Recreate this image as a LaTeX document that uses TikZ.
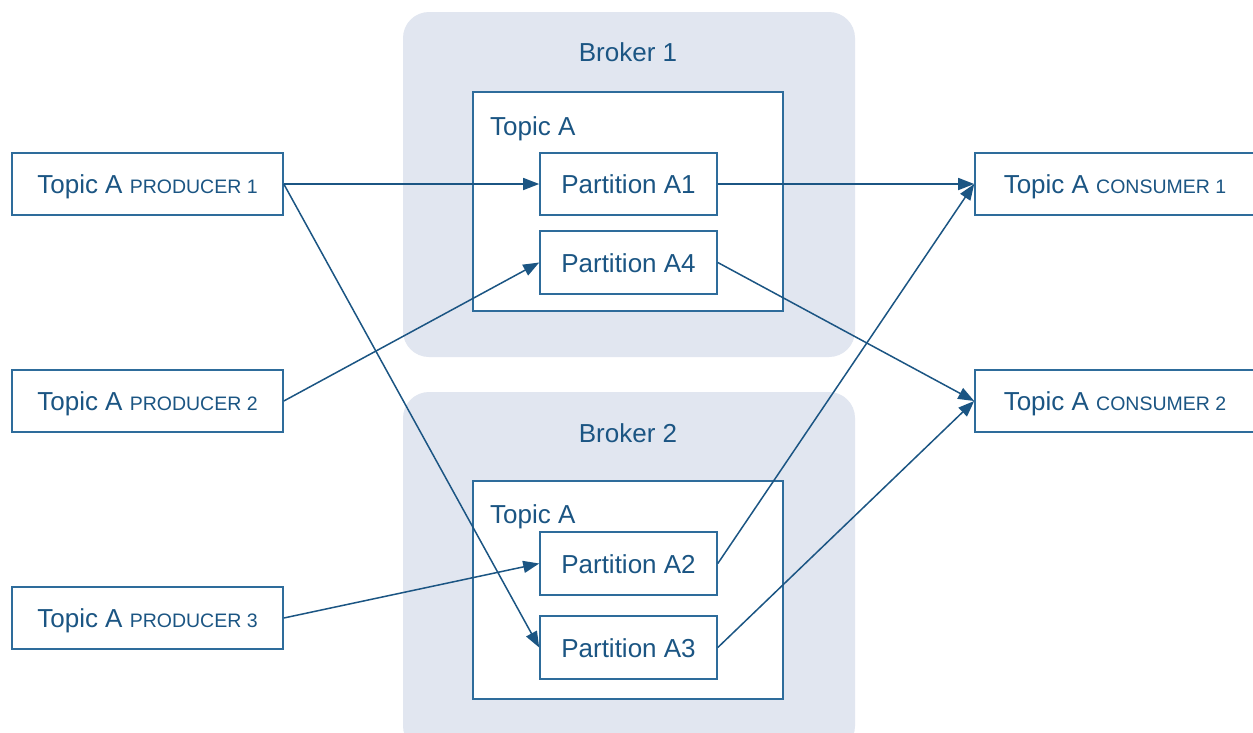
\documentclass[tikz,border=0pt]{standalone}
\usepackage{fontspec}
\setmainfont{Liberation Sans}
\usetikzlibrary{arrows.meta}
\definecolor{ink}{HTML}{1B5583}
\definecolor{edge}{HTML}{2E6C9B}
\definecolor{brokerbg}{HTML}{E1E6F0}
\newcommand\capt[1]{{\fontsize{19.5}{22}\selectfont #1}}
\tikzset{
  base/.style={font=\fontsize{26}{30}\selectfont, text=ink},
  box/.style={base, draw=edge, line width=1.6pt, fill=white, minimum width=271pt, minimum height=62pt, inner sep=0pt, text height=19.5pt, text depth=0pt},
  partbox/.style={base, draw=edge, line width=1.6pt, fill=white, minimum width=177pt, minimum height=62pt, inner sep=0pt, text height=19.5pt, text depth=0pt},
  topicbox/.style={draw=edge, line width=1.6pt, fill=white, minimum width=310pt, minimum height=219pt, inner sep=0pt},
  broker/.style={fill=brokerbg, rounded corners=26pt, minimum width=452pt, minimum height=345pt, inner sep=0pt},
  conn/.style={draw=ink, line width=1.5pt, -{Triangle[length=16pt,width=12pt]}},
  lbl/.style={base, inner sep=0pt, text height=19.5pt, text depth=0pt}
}
\begin{document}
\begin{tikzpicture}[x=1pt,y=-1pt]
\useasboundingbox (0,0) rectangle (1253,732);
\clip (0,0) rectangle (1253,732);
\fill[white] (0,0) rectangle (1253,732);
% brokers
\node[broker] (b1) at (629,184.5) {};
\node[broker, minimum height=360pt] (b2) at (629,572) {};
\node[lbl] (b1l) at (628,52) {Broker 1};
\node[lbl] (b2l) at (628,433) {Broker 2};
% topics
\node[topicbox] (t1) at (628,201.5) {};
\node[topicbox, minimum height=218pt] (t2) at (628,590) {};
\node[lbl, anchor=west] (t1l) at (490,126) {Topic A};
\node[lbl, anchor=west] (t2l) at (490,514) {Topic A};
% partitions
\node[partbox] (a1) at (628.5,184) {Partition A1};
\node[partbox, minimum height=63pt] (a4) at (628.5,262.5) {Partition A4};
\node[partbox, minimum height=63pt] (a2) at (628.5,563.5) {Partition A2};
\node[partbox, minimum height=63pt] (a3) at (628.5,647.5) {Partition A3};
% producers
\node[box] (p1) at (147.5,184) {Topic A \capt{PRODUCER 1}};
\node[box] (p2) at (147.5,401) {Topic A \capt{PRODUCER 2}};
\node[box] (p3) at (147.5,618) {Topic A \capt{PRODUCER 3}};
% consumers
\node[box, minimum width=280pt] (c1) at (1115,184) {Topic A \capt{CONSUMER 1}};
\node[box, minimum width=280pt] (c2) at (1115,401) {Topic A \capt{CONSUMER 2}};
% connectors
\draw[conn] (p1.east) -- (a1.west);
\draw[conn] (p1.east) -- (a3.west);
\draw[conn] (p2.east) -- (a4.west);
\draw[conn] (p3.east) -- (a2.west);
\draw[conn] (a1.east) -- (c1.west);
\draw[conn] (a2.east) -- (c1.west);
\draw[conn] (a4.east) -- (c2.west);
\draw[conn] (a3.east) -- (c2.west);
\end{tikzpicture}
\end{document}
